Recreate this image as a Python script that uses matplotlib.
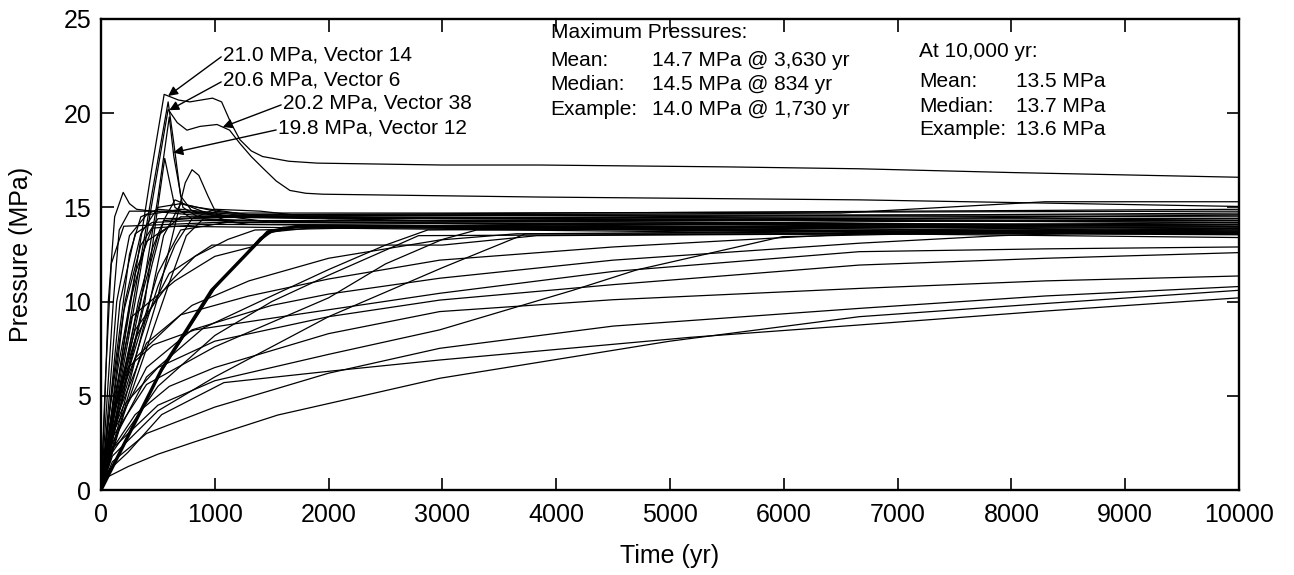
import matplotlib
matplotlib.use('Agg')
import matplotlib.pyplot as plt
import numpy as np

plt.rcParams['font.family'] = ['Liberation Sans', 'DejaVu Sans']

# pressure histories: (time yr, pressure MPa)
vec14 = [(0, 0), (150, 5.8), (300, 11.4), (450, 17.2), (555, 21.0), (680, 20.7), (780, 20.6),
         (880, 20.7), (980, 20.8), (1060, 20.6), (1140, 19.5), (1220, 18.6), (1320, 18.0),
         (1420, 17.7), (1650, 17.45), (1900, 17.35), (3000, 17.25), (3850, 17.25),
         (5500, 17.15), (6664, 17.05), (8000, 16.85), (10000, 16.6)]
vec38 = [(0, 0), (150, 5), (300, 10), (450, 15.3), (590, 20.2), (670, 19.5), (755, 19.1),
         (870, 19.3), (1020, 19.4), (1130, 19.1), (1220, 18.4), (1320, 17.7), (1420, 17.1),
         (1540, 16.4), (1660, 15.9), (1800, 15.75), (1950, 15.7), (3850, 15.55),
         (6664, 15.4), (10000, 15.05)]
vec6 = [(0, 0), (140, 5), (284, 10), (450, 15.8), (590, 20.6), (640, 18.4), (700, 15.6),
        (800, 14.8), (1200, 14.5), (3000, 14.4), (10000, 14.2)]
vec12 = [(0, 0), (170, 5), (350, 10), (500, 15.5), (600, 19.8), (640, 17.7), (720, 15.0),
         (850, 14.5), (3000, 14.3), (10000, 14.0)]
example = [(0, 0), (533, 6.4), (972, 10.6), (1466, 13.7), (1730, 14.0), (4000, 13.9),
           (7000, 13.7), (10000, 13.6)]
example_twin = [(0, 0), (500, 6.0), (1000, 10.7), (1400, 13.4), (1600, 13.95), (4000, 14.1),
                (10000, 14.1)]

fast1 = [(0, 0), (30, 4), (64, 10), (120, 14.5), (195, 15.8), (250, 15.2), (313, 14.9),
         (450, 14.8), (800, 14.6), (3000, 14.4), (10000, 14.3)]
fast2 = [(0, 0), (60, 4), (138, 10), (250, 13.5), (400, 14.6), (700, 14.9), (1200, 14.6),
         (10000, 14.5)]
fast3 = [(0, 0), (100, 4.5), (211, 10), (350, 13.6), (500, 15.0), (700, 15.2), (1000, 14.8),
         (1500, 14.5), (10000, 14.4)]
fast4 = [(0, 0), (200, 4.5), (430, 10), (550, 13.5), (700, 15.2), (850, 15.0), (1300, 14.6),
         (10000, 14.6)]
fast5 = [(0, 0), (230, 4.8), (489, 10), (600, 12.8), (680, 14.8), (740, 16.3), (800, 17.0),
         (860, 16.7), (940, 15.6), (1020, 14.6), (1500, 14.2), (10000, 14.0)]
fast6 = [(0, 0), (190, 5), (386, 10), (480, 14.2), (560, 17.6), (650, 15.0), (800, 14.4),
         (2000, 14.2), (10000, 13.9)]
fast7 = [(0, 0), (80, 4.5), (167, 10), (300, 13.6), (450, 14.2), (800, 14.3), (10000, 14.3)]
fast8 = [(0, 0), (150, 4), (350, 8), (500, 10.8), (650, 13.0), (800, 14.4), (1000, 14.9),
         (1400, 14.8), (2000, 14.4), (10000, 14.7)]
fast9 = [(0, 0), (50, 4.5), (108, 10), (160, 13.8), (250, 14.8), (600, 14.8), (1200, 14.5),
         (10000, 14.2)]
fast10 = [(0, 0), (200, 4), (400, 7.5), (600, 11), (750, 13.5), (900, 14.4), (1300, 14.1),
          (10000, 13.7)]
fast11 = [(0, 0), (100, 3), (300, 8), (450, 12), (550, 14.3), (650, 15.4), (800, 15.0),
          (1100, 14.3), (10000, 13.6)]
fast12 = [(0, 0), (100, 3.5), (300, 9), (500, 13.5), (700, 14.5), (3000, 14.6), (6500, 14.7),
          (8300, 15.3), (10000, 15.3)]
fast13 = [(0, 0), (120, 4.5), (255, 10), (400, 13.2), (600, 14.0), (2000, 13.9), (10000, 13.4)]
fast14 = [(0, 0), (150, 4.5), (328, 10), (450, 12.8), (550, 14.3), (1200, 14.6), (10000, 14.9)]
band1 = [(0, 0), (40, 6), (90, 12), (200, 14.0), (1000, 14.2), (10000, 14.1)]
band2 = [(0, 0), (150, 6.5), (300, 11.5), (450, 13.9), (900, 14.1), (5000, 14.0), (10000, 13.8)]
band3 = [(0, 0), (250, 6.5), (500, 11.5), (700, 13.8), (1200, 14.3), (6000, 14.2), (10000, 14.4)]
band4 = [(0, 0), (60, 3.5), (200, 9.5), (350, 13.0), (500, 14.4), (1500, 14.5), (7000, 14.4),
         (10000, 14.6)]
band5 = [(0, 0), (100, 5.5), (250, 12.5), (350, 14.5), (500, 14.9), (900, 14.7), (3000, 14.7),
         (10000, 14.8)]

mid1 = [(0, 0), (100, 4), (300, 8.5), (600, 11.0), (825, 12.4), (1115, 13.3), (1352, 13.8),
        (3000, 14.0), (10000, 14.0)]
mid2 = [(0, 0), (120, 5), (270, 9.2), (650, 11.1), (1000, 12.4), (1323, 12.9), (1500, 13.7),
        (2000, 14.0), (10000, 13.9)]
mid3 = [(0, 0), (100, 2.5), (400, 6), (900, 8.6), (1500, 10.3), (2000, 11.7), (2500, 13.0),
        (2870, 13.8), (10000, 14.2)]
mid4 = [(0, 0), (100, 2), (500, 5.5), (1000, 8.2), (1500, 10.0), (2000, 11.4), (2790, 13.5),
        (10000, 13.7)]
mid5 = [(0, 0), (100, 1.8), (500, 4.2), (1000, 6.0), (2000, 9.2), (3000, 11.8), (3730, 13.6),
        (10000, 13.9)]
mid6 = [(0, 0), (100, 2.8), (400, 5.6), (1000, 7.6), (2000, 10.2), (2500, 12.0), (3000, 13.3),
        (3300, 13.8), (10000, 14.1)]

slowA = [(0, 0), (100, 3.3), (400, 7.8), (800, 9.8), (1300, 11.1), (2000, 12.3), (2976, 13.27),
         (3650, 13.6), (10000, 13.6)]
slowB = [(0, 0), (100, 4.0), (300, 8), (600, 11.5), (975, 13.0), (3000, 13.0), (3830, 13.5),
         (10000, 13.7)]
slowC = [(0, 0), (100, 4), (300, 7), (700, 9.3), (1300, 10.3), (2000, 11.2), (2976, 12.2),
         (4500, 12.9), (6000, 13.4), (7000, 13.7), (10000, 13.8)]
slowD = [(0, 0), (100, 3), (400, 6.5), (800, 8.5), (1500, 9.8), (2000, 10.4), (2976, 11.24),
         (4500, 12.2), (6664, 13.1), (7900, 13.5), (10000, 13.9)]
slowE = [(0, 0), (80, 3.5), (237, 6.5), (457, 7.7), (825, 8.5), (1590, 9.2), (2976, 10.44),
         (4500, 11.6), (6664, 12.65), (8300, 12.8), (10000, 12.9)]
slowF = [(0, 0), (60, 2.5), (200, 4.5), (500, 6.5), (1000, 7.9), (2000, 9.2), (2976, 10.08),
         (4500, 10.9), (6664, 11.94), (8300, 12.3), (10000, 12.6)]
slowG = [(0, 0), (80, 2.0), (300, 4.0), (600, 5.5), (1000, 6.5), (2000, 8.3), (2976, 9.47),
         (4500, 10.1), (6664, 10.7), (8300, 11.1), (10000, 11.36)]
slowH = [(0, 0), (100, 2.2), (500, 4.5), (1000, 5.8), (2000, 7.2), (2976, 8.5), (4146, 10.6),
         (4706, 11.68), (5990, 13.45), (8000, 13.7), (10000, 13.8)]
slowI = [(0, 0), (100, 1.5), (400, 3.0), (1000, 4.4), (2000, 6.2), (2976, 7.52), (4500, 8.7),
         (6664, 9.64), (8300, 10.3), (10000, 10.8)]
slowJ = [(0, 0), (60, 1.0), (237, 2.0), (533, 4.0), (1080, 5.7), (2000, 6.3), (2976, 6.9),
         (5171, 8.1), (6664, 8.76), (8300, 9.5), (10000, 10.2)]
slowK = [(0, 0), (60, 0.7), (237, 1.24), (500, 1.9), (825, 2.56), (1554, 3.98), (2300, 5.0),
         (2976, 5.93), (5000, 7.9), (6664, 9.2), (8300, 9.9), (10000, 10.6)]

thin_curves = [vec14, vec38, vec6, vec12, example_twin,
               fast1, fast2, fast3, fast4, fast5, fast6, fast7, fast8, fast9, fast10,
               fast11, fast12, fast13, fast14, band1, band2, band3, band4, band5,
               mid1, mid2, mid3, mid4, mid5, mid6,
               slowA, slowB, slowC, slowD, slowE, slowF, slowG, slowH, slowI, slowJ, slowK]

# labelled peaks
peak_labels = ['21.0 MPa, Vector 14', '20.6 MPa, Vector 6', '20.2 MPa, Vector 38',
               '19.8 MPa, Vector 12']
peak_curves = [vec14, vec6, vec38, vec12]
peak_times = [590, 600, 1070, 636]

max_rows = ['Mean:', 'Median:', 'Example:']
max_vals = ['14.7 MPa @ 3,630 yr', '14.5 MPa @ 834 yr', '14.0 MPa @ 1,730 yr']
end_vals = ['13.5 MPa', '13.7 MPa', '13.6 MPa']

fig = plt.figure(figsize=(12.94, 5.75), dpi=100)
ax = fig.add_axes([101 / 1294, 1 - 490 / 575, 1138 / 1294, 471 / 575])

for c in thin_curves:
    t, p = zip(*c)
    ax.plot(t, p, color='k', lw=0.9)
t, p = zip(*example)
ax.plot(t, p, color='k', lw=2.4)

ax.set_xlim(0, 10000)
ax.set_ylim(0, 25)
ax.set_xticks(np.arange(0, 10001, 1000))
ax.set_yticks(np.arange(0, 26, 5))
ax.tick_params(direction='in', length=9, width=1.2, top=True, right=True, labelsize=18)
ax.tick_params(axis='x', pad=9)
ax.tick_params(axis='y', pad=7)
for s in ax.spines.values():
    s.set_linewidth(1.7)

ax.set_xlabel('Time (yr)', fontsize=18)
ax.set_ylabel('Pressure (MPa)', fontsize=18)
ax.xaxis.set_label_coords(0.5, -0.115)
ax.yaxis.set_label_coords(-0.06, 0.5)

# arrows to the highest peaks
text_x = [1071, 1071, 1598, 1554]
text_y = [23.09, 21.76, 20.54, 19.21]
for lab, c, tt, tx, ty in zip(peak_labels, peak_curves, peak_times, text_x, text_y):
    ct, cp = zip(*c)
    tip = (tt, np.interp(tt, ct, cp))
    ax.text(tx, ty, lab, fontsize=15, ha='left', va='center')
    ax.annotate('', xy=tip, xytext=(tx - 15, ty - 0.1),
                arrowprops=dict(arrowstyle='-|>', color='k', lw=1.0, mutation_scale=14,
                                shrinkA=0, shrinkB=0))

ax.text(3951, 24.26, 'Maximum Pressures:', fontsize=15, va='center')
for i, (r, v) in enumerate(zip(max_rows, max_vals)):
    y = [22.82, 21.5, 20.17][i]
    ax.text(3951, y, r, fontsize=15, va='center')
    ax.text(4838, y, v, fontsize=15, va='center')

ax.text(7190, 23.25, 'At 10,000 yr:', fontsize=15, va='center')
for i, (r, v) in enumerate(zip(max_rows, end_vals)):
    y = [21.66, 20.38, 19.11][i]
    ax.text(7190, y, r, fontsize=15, va='center')
    ax.text(8042, y, v, fontsize=15, va='center')

fig.savefig('out.png', dpi=100)
